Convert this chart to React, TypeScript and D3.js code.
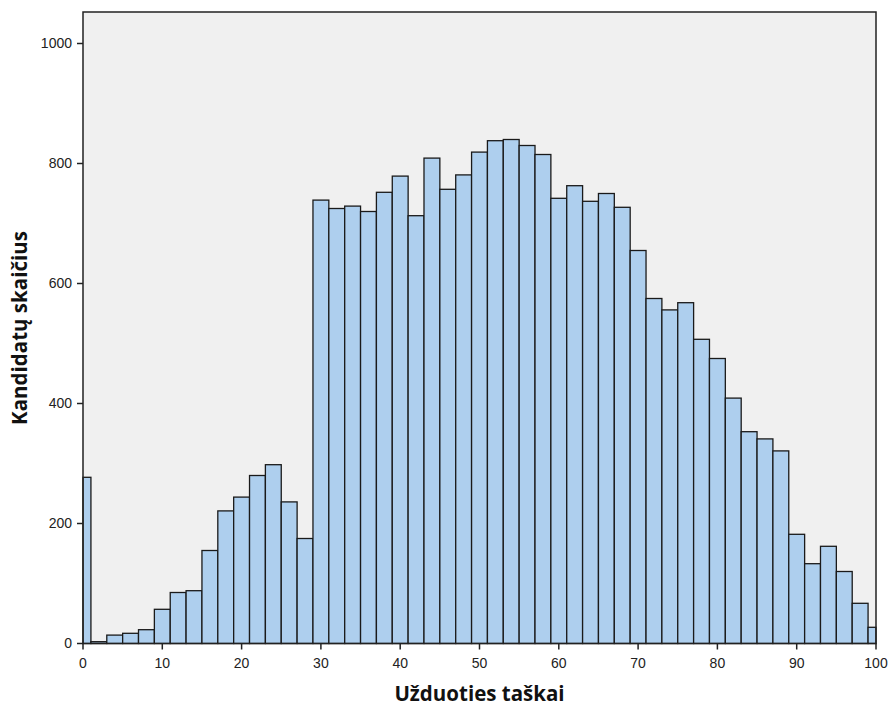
import React from "react";
import * as d3 from "d3";

const binCenters = [0,2,4,6,8,10,12,14,16,18,20,22,24,26,28,30,32,34,36,38,40,42,44,46,48,50,52,54,56,58,60,62,64,66,68,70,72,74,76,78,80,82,84,86,88,90,92,94,96,98,100];
const counts = [277,3,14,17,23,57,85,88,155,221,244,280,298,236,175,739,725,729,720,752,779,713,809,757,781,819,838,840,830,815,742,763,737,750,727,655,575,556,568,507,475,409,353,341,321,182,133,162,120,67,27];
const binWidth = 2;
const xTicks = [0,10,20,30,40,50,60,70,80,90,100];
const yTicks = [0,200,400,600,800,1000];
const xTitle = "Užduoties taškai";
const yTitle = "Kandidatų skaičius";

const W = 888, H = 707;
const left = 83, right = 876, top = 12, bottom = 643.5;

export default function App() {
  const x = d3.scaleLinear().domain([0, 100]).range([left, right]);
  const y = d3.scaleLinear().domain([0, 1000]).range([bottom, bottom - 600]);
  const font = "'Liberation Sans', Arial, sans-serif";
  return (
    <svg width={W} height={H} style={{ position: "absolute", left: 0, top: 0 }}>
      <rect x={left} y={top} width={right - left} height={bottom - top} fill="#f0f0f0" />
      {binCenters.map((c, i) => {
        const x0 = Math.max(0, c - binWidth / 2);
        const x1 = Math.min(100, c + binWidth / 2);
        const yv = y(counts[i]);
        return (
          <rect key={i} x={x(x0)} y={yv} width={x(x1) - x(x0)} height={bottom - yv}
            fill="#aecfee" stroke="#1a1a1a" strokeWidth={1.3} />
        );
      })}
      <rect x={left} y={top} width={right - left} height={bottom - top} fill="none" stroke="#222" strokeWidth={1.5} />
      {yTicks.map((t) => (
        <g key={t}>
          <line x1={left - 6} x2={left} y1={y(t)} y2={y(t)} stroke="#222" strokeWidth={1.5} />
          <text x={left - 11} y={y(t)} dy="0.35em" textAnchor="end" fontFamily={font} fontSize={14} fill="#222">{t}</text>
        </g>
      ))}
      {xTicks.map((t) => (
        <g key={t}>
          <line x1={x(t)} x2={x(t)} y1={bottom} y2={bottom + 6} stroke="#222" strokeWidth={1.5} />
          <text x={x(t)} y={bottom + 24} textAnchor="middle" fontFamily={font} fontSize={14} fill="#222">{t}</text>
        </g>
      ))}
      <text x={(left + right) / 2} y={701} textAnchor="middle" fontFamily="'Open Sans', sans-serif" fontWeight="bold" fontSize={20.5} fill="#111">{xTitle}</text>
      <text transform={`translate(27,${328}) rotate(-90)`} textAnchor="middle" fontFamily="'Open Sans', sans-serif" fontWeight="bold" fontSize={20.5} fill="#111">{yTitle}</text>
    </svg>
  );
}
